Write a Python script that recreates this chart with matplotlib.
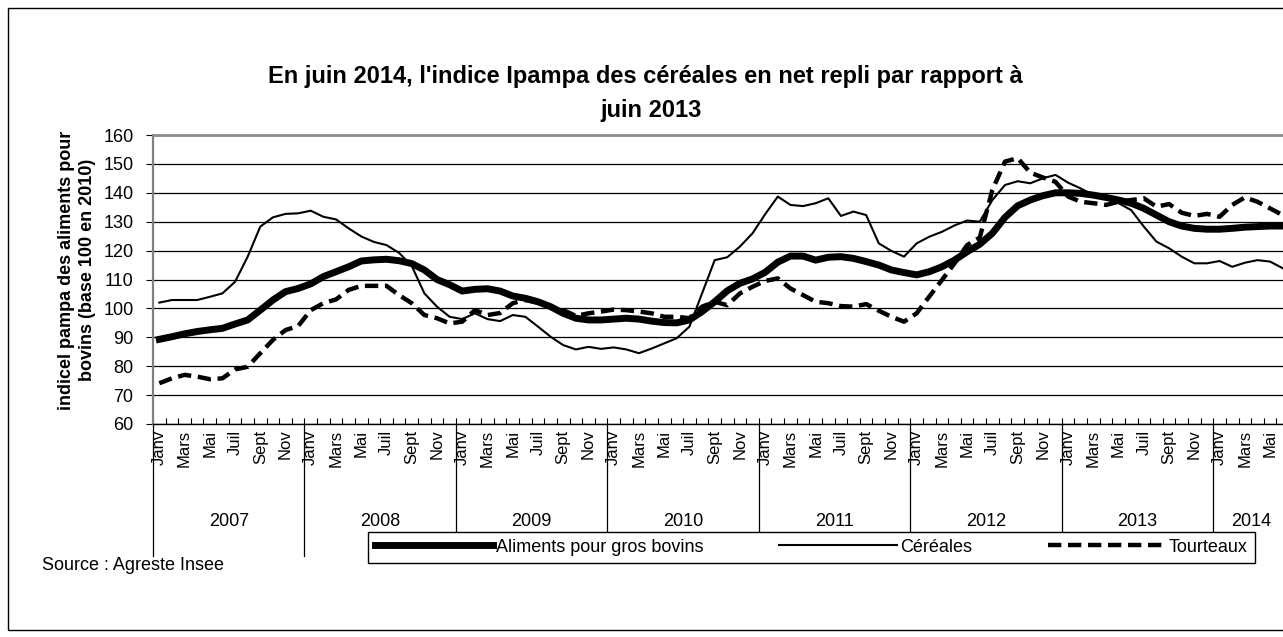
import matplotlib
matplotlib.use("Agg")
import matplotlib.pyplot as plt
import matplotlib.transforms as mtransforms
from matplotlib.patches import Rectangle
import numpy as np

plt.rcParams['font.family'] = ['Liberation Sans', 'DejaVu Sans']

# monthly indices, Jan 2007 -> Jun 2014 (base 100 en 2010)
years = ["2007", "2008", "2009", "2010", "2011", "2012", "2013", "2014"]
months_per_year = [12, 12, 12, 12, 12, 12, 12, 6]
month_labels = ["Janv", "Mars", "Mai", "Juil", "Sept", "Nov"]  # one label every 2 months

aliments = [
    89.3, 90.2, 91.2, 92.0, 92.6, 93.1, 94.6, 96.0, 99.4, 102.9, 105.8, 106.9,
    108.5, 111.0, 112.7, 114.4, 116.4, 116.8, 117.0, 116.5, 115.5, 113.3, 110.0, 108.2,
    106.0, 106.6, 106.8, 106.0, 104.3, 103.5, 102.3, 100.6, 98.3, 96.6, 96.0, 96.0,
    96.3, 96.6, 96.3, 95.6, 95.1, 95.0, 96.0, 98.9, 102.3, 106.1, 108.7, 110.2,
    112.5, 116.0, 118.1, 118.1, 116.7, 117.7, 117.9, 117.3, 116.2, 115.0, 113.3, 112.4,
    111.6, 112.7, 114.4, 116.7, 119.6, 122.2, 126.0, 131.5, 135.5, 137.5, 139.0, 140.0,
    140.0, 139.8, 139.2, 138.4, 137.5, 136.4, 134.6, 132.3, 130.0, 128.5, 127.7, 127.4,
    127.4, 127.7, 128.1, 128.3, 128.5, 128.5,
]

cereales = [
    102.0, 102.9, 102.9, 102.9, 104.0, 105.2, 109.2, 117.9, 128.3, 131.5, 132.7, 132.9,
    133.8, 131.7, 130.8, 127.7, 124.9, 123.0, 121.9, 119.2, 114.7, 105.2, 100.6, 97.1,
    96.3, 98.3, 96.3, 95.6, 97.7, 97.1, 93.7, 90.2, 87.3, 85.8, 86.7, 86.0,
    86.5, 85.8, 84.5, 86.1, 87.9, 89.7, 93.7, 105.2, 116.7, 117.7, 121.4, 126.0,
    132.6, 138.7, 135.8, 135.4, 136.4, 138.1, 132.0, 133.5, 132.3, 122.5, 119.9, 117.9,
    122.5, 124.8, 126.5, 128.7, 130.4, 130.0, 137.5, 142.7, 144.0, 143.3, 145.0, 146.2,
    143.5, 141.5, 139.2, 138.7, 136.4, 134.0, 128.3, 123.1, 120.8, 117.9, 115.6, 115.6,
    116.4, 114.4, 115.8, 116.7, 116.2, 113.9,
]

tourteaux = [
    74.1, 75.8, 77.0, 76.4, 75.5, 75.8, 78.9, 79.8, 84.5, 89.1, 92.5, 93.9,
    99.4, 101.8, 103.1, 106.4, 107.8, 107.8, 107.8, 104.6, 101.8, 97.7, 96.6, 94.8,
    95.4, 99.4, 97.7, 98.4, 101.8, 102.9, 102.0, 100.6, 99.4, 97.4, 98.3, 98.9,
    99.6, 99.4, 98.9, 98.3, 97.1, 97.1, 96.6, 100.6, 102.3, 101.1, 105.2, 107.5,
    109.5, 110.4, 106.9, 104.6, 102.3, 101.8, 100.8, 100.6, 101.5, 99.2, 97.1, 95.4,
    98.3, 104.1, 109.8, 115.6, 121.9, 124.5, 141.0, 150.8, 152.0, 147.0, 145.3, 143.8,
    138.7, 136.9, 136.4, 135.8, 136.9, 137.5, 138.1, 135.2, 136.1, 133.1, 132.0, 132.7,
    131.7, 135.8, 138.4, 136.9, 134.6, 132.3,
]

W, H = 1283, 637
n = len(aliments)
x = np.arange(n)

fig = plt.figure(figsize=(W / 100, H / 100), dpi=100)
# plot area runs slightly past the right edge, like the cropped original
ax = fig.add_axes([153 / W, 1 - 424 / H, (1289 - 153) / W, (424 - 135) / H])

l_alim, = ax.plot(x, aliments, color='black', lw=5, label='Aliments pour gros bovins',
                  solid_joinstyle='round', zorder=3)
l_cer, = ax.plot(x, cereales, color='black', lw=1.5, label='Céréales', zorder=4)
l_tour, = ax.plot(x, tourteaux, color='black', lw=3.2, dashes=(3, 1.5), label='Tourteaux', zorder=5)

ax.set_xlim(-0.5, n - 0.5)
ax.set_ylim(60, 160)
ax.set_yticks(range(60, 161, 10))
ax.grid(axis='y', color='black', lw=0.9)
ax.set_axisbelow(True)
ax.tick_params(axis='y', direction='out', length=5, labelsize=13, pad=9)

ax.spines['top'].set_color('#8c8c8c')
ax.spines['top'].set_linewidth(2)
ax.spines['left'].set_color('#808080')
ax.spines['left'].set_linewidth(1.6)
ax.spines['right'].set_visible(False)
ax.spines['bottom'].set_linewidth(1)

# month labels every two months, tick marks at each month boundary
major_pos = []
major_lab = []
start = 0
for nm in months_per_year:
    for k in range(0, nm, 2):
        major_pos.append(start + k)
        major_lab.append(month_labels[k // 2])
    start += nm
ax.set_xticks(major_pos)
ax.set_xticklabels(major_lab, rotation=90, fontsize=12, va='top')
ax.tick_params(axis='x', which='major', length=0, pad=4)
ax.set_xticks(np.arange(-0.5, n, 1), minor=True)
ax.tick_params(axis='x', which='minor', direction='in', length=4, width=0.8)

# year groups below the month labels
trans = mtransforms.blended_transform_factory(ax.transData, fig.transFigure)
start = 0
for yr, nm in zip(years, months_per_year):
    b = start - 0.5
    ax.plot([b, b], [1 - 424 / H, 1 - 556 / H], transform=trans, clip_on=False,
            color='black', lw=0.9)
    ax.text(start + nm / 2 - 0.5, 1 - 521 / H, yr, transform=trans,
            ha='center', va='center', fontsize=13)
    start += nm

fig.text(645 / W, 1 - 77 / H, "En juin 2014, l'indice Ipampa des céréales en net repli par rapport à",
         ha='center', va='center', fontsize=17, fontweight='bold')
fig.text(651 / W, 1 - 110 / H, "juin 2013",
         ha='center', va='center', fontsize=17, fontweight='bold')

fig.text(77 / W, 1 - 270 / H, "indicel pampa des aliments pour\nbovins (base 100 en 2010)",
         rotation=90, ha='center', va='center', fontsize=13, fontweight='bold',
         multialignment='center', linespacing=1.3)

fig.text(42 / W, 1 - 565 / H, "Source : Agreste Insee", va='center', fontsize=13)

leg = fig.legend(handles=[l_alim, l_cer, l_tour], loc='lower left',
                 bbox_to_anchor=(368 / W, 1 - 563 / H, (1255 - 368) / W, 33 / H),
                 mode='expand', ncol=3, fontsize=13, handlelength=6.5,
                 handletextpad=0.2, columnspacing=0.4, borderaxespad=0,
                 fancybox=False, edgecolor='black', framealpha=1)
leg.get_frame().set_linewidth(1)

# outer chart frame
fig.add_artist(Rectangle((8 / W, 1 - 630 / H), 1.0, (630 - 8) / H, transform=fig.transFigure,
                         fill=False, edgecolor='black', lw=1))

fig.savefig("out.png", dpi=100)
